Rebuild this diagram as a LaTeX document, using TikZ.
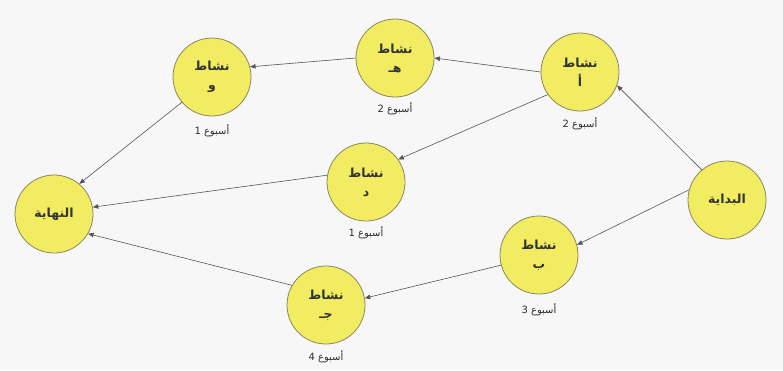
\documentclass[tikz,border=0pt]{standalone}
\usepackage{fontspec}
\setmainfont{DejaVu Sans}
\newfontfamily\arabicfont[Script=Arabic]{DejaVu Sans}
\TeXXeTstate=1
\usetikzlibrary{arrows.meta}
\definecolor{nodefill}{RGB}{242,236,98}
\definecolor{nodeline}{RGB}{140,135,95}
\definecolor{edgeline}{RGB}{85,85,85}
\definecolor{labeltext}{RGB}{45,45,45}
\tikzset{
  act/.style={circle, draw=nodeline, line width=0.8pt, fill=nodefill,
    minimum size=78pt, inner sep=0pt, align=center,
    font=\arabicfont\bfseries\fontsize{12.5}{19}\selectfont, text=black!80},
  dur/.style={font=\fontsize{10}{12}\selectfont, text=labeltext},
  link/.style={draw=edgeline, line width=0.6pt, -{Triangle[length=5.5pt,width=4.5pt]}}
}
\newcommand{\ar}[1]{\beginR #1\endR}
% duration label: number on the left, word on the right
\newcommand{\weeks}[1]{\hbox{#1}\hspace{0.3em}\hbox{\arabicfont\ar{أسبوع}}}
\begin{document}
\begin{tikzpicture}[x=1pt,y=-1pt]
\fill[white!97!black] (0,0) rectangle (783,370);
\useasboundingbox (0,0) rectangle (783,370);

\node[act] (w) at (212,77) {\ar{نشاط}\\\ar{و}};
\node[act] (h) at (395,58) {\ar{نشاط}\\\ar{هـ}};
\node[act] (a) at (580,72) {\ar{نشاط}\\\ar{أ}};
\node[act] (d) at (366,182) {\ar{نشاط}\\\ar{د}};
\node[act] (end) at (54,214) {\ar{النهاية}};
\node[act] (start) at (727,200) {\ar{البداية}};
\node[act] (b) at (539,255) {\ar{نشاط}\\\ar{ب}};
\node[act] (j) at (326,305) {\ar{نشاط}\\\ar{جـ}};

\node[dur] (lw) at (212,131) {\weeks{1}};
\node[dur] (lh) at (395,109) {\weeks{2}};
\node[dur] (la) at (580,124) {\weeks{2}};
\node[dur] (ld) at (366,233) {\weeks{1}};
\node[dur] (lb) at (539,310) {\weeks{3}};
\node[dur] (lj) at (326,357) {\weeks{4}};

\draw[link] (start.130) -- (a.-20);
\draw[link] (start.165) -- (b.15);
\draw[link] (a.180) -- (h.0);
\draw[link] (h.180) -- (w.15);
\draw[link] (a.215) -- (d.35);
\draw[link] (b.195) -- (j.10);
\draw[link] (w.220) -- (end.50);
\draw[link] (d.170) -- (end.10);
\draw[link] (j.150) -- (end.-30);
\end{tikzpicture}
\end{document}
